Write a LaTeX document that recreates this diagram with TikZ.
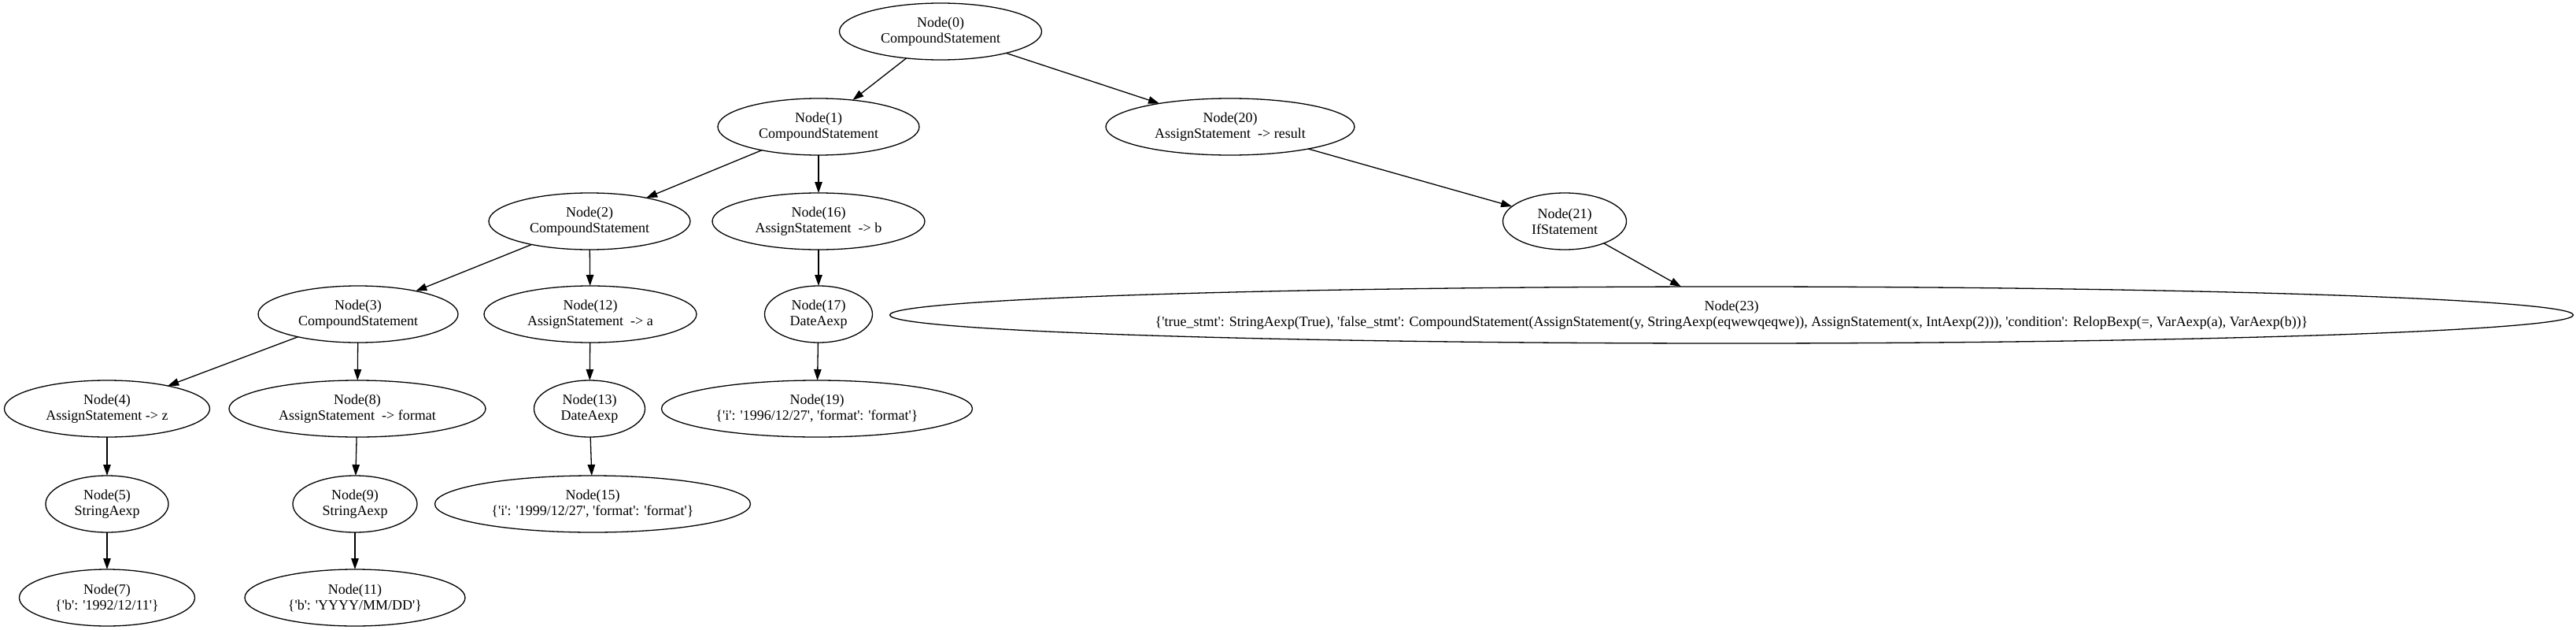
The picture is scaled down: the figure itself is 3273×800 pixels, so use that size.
\documentclass[tikz,border=0pt]{standalone}
\usepackage{fontspec}
\newfontfamily\gvfont{Liberation Serif}[Ligatures=TeXOff]
\usetikzlibrary{shapes.geometric,arrows.meta}
\tikzset{
  gv/.style={draw, ellipse, line width=1.3pt, inner sep=0pt, outer sep=0pt, minimum height=72pt},
  gvtext/.style={align=center, inner sep=0pt, font=\gvfont\fontsize{18}{20}\selectfont},
  gvedge/.style={-{Triangle[length=14pt,width=9.5pt]}, line width=1.3pt}
}
\newcommand\gn[5]{\node[gv, minimum width=#4] (#1) at (#2,#3) {}; \node[gvtext] (#1t) at (#1) {#5};}
\begin{document}
\begin{tikzpicture}[x=1pt,y=-1pt]
\useasboundingbox (0,0) rectangle (3273,800);
\gn{n0}{1195}{40}{257}{Node(0)\\CompoundStatement}
\gn{n1}{1040}{161}{256}{Node(1)\\CompoundStatement}
\gn{n20}{1563}{161}{316}{Node(20)\\AssignStatement\ \ -> result}
\gn{n2}{749}{281}{256}{Node(2)\\CompoundStatement}
\gn{n16}{1040}{281}{270}{Node(16)\\AssignStatement\ \ -> b}
\gn{n21}{1988}{281}{157}{Node(21)\\IfStatement}
\gn{n3}{455}{399}{254}{Node(3)\\CompoundStatement}
\gn{n12}{750}{399}{270}{Node(12)\\AssignStatement\ \ -> a}
\gn{n17}{1040}{399}{137}{Node(17)\\DateAexp}
\gn{n23}{2200}{400}{2139}{Node(23)\\\{'true\_stmt': StringAexp(True), 'false\_stmt': CompoundStatement(AssignStatement(y, StringAexp(eqwewqeqwe)), AssignStatement(x, IntAexp(2))), 'condition': RelopBexp(=, VarAexp(a), VarAexp(b))\}}
\gn{n4}{136}{519}{261}{Node(4)\\AssignStatement -> z}
\gn{n8}{454}{519}{326}{Node(8)\\AssignStatement\ \ -> format}
\gn{n13}{749}{519}{141}{Node(13)\\DateAexp}
\gn{n19}{1038}{519}{395}{Node(19)\\\{'i': '1996/12/27', 'format': 'format'\}}
\gn{n5}{136}{640}{156}{Node(5)\\StringAexp}
\gn{n9}{451}{640}{158}{Node(9)\\StringAexp}
\gn{n15}{753}{640}{401}{Node(15)\\\{'i': '1999/12/27', 'format': 'format'\}}
\gn{n7}{136}{759}{223}{Node(7)\\\{'b': '1992/12/11'\}}
\gn{n11}{451}{759}{280}{Node(11)\\\{'b': 'YYYY/MM/DD'\}}
\foreach \a/\b in {n0/n1,n0/n20,n1/n2,n1/n16,n20/n21,n2/n3,n2/n12,n16/n17,n21/n23,n3/n4,n3/n8,n12/n13,n17/n19,n4/n5,n8/n9,n13/n15,n5/n7,n9/n11}
  \draw[gvedge] (\a) -- (\b);
\end{tikzpicture}
\end{document}
